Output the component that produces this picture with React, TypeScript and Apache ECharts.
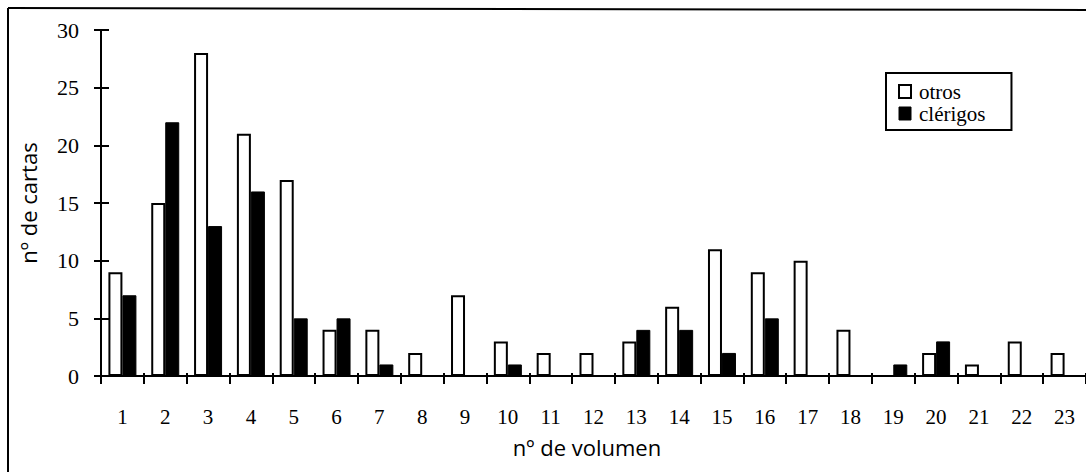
import React, { useEffect, useRef } from "react";
import * as echarts from "echarts";

const categories = ["1","2","3","4","5","6","7","8","9","10","11","12","13","14","15","16","17","18","19","20","21","22","23"];
const otros = [9, 15, 28, 21, 17, 4, 4, 2, 7, 3, 2, 2, 3, 6, 11, 9, 10, 4, 0, 2, 1, 3, 2];
const clerigos = [7, 22, 13, 16, 5, 5, 1, 0, 0, 1, 0, 0, 4, 4, 2, 5, 0, 0, 1, 3, 0, 0, 0];
const yMin = 0;
const yMax = 30;
const yStep = 5;

const SERIF = "'Liberation Serif', 'Times New Roman', serif";
const SANS = "'Open Sans', 'Noto Sans', sans-serif";

export default function App() {
  const ref = useRef<HTMLDivElement>(null);
  useEffect(() => {
    if (!ref.current) return;
    const chart = echarts.init(ref.current, null, { renderer: "svg" });
    const left = 101;
    const catW = 43.1;
    const top = 30;
    const h = 346;
    const option: any = {
      animation: false,
      backgroundColor: "#ffffff",
      grid: { left: left, top: top, width: catW * categories.length, height: h, containLabel: false },
      legend: {
        left: 886,
        top: 73,
        orient: "vertical",
        borderColor: "#000",
        borderWidth: 2,
        borderRadius: 0,
        padding: [8, 26, 6, 12],
        itemWidth: 12,
        itemHeight: 13,
        itemGap: 1,
        textStyle: { fontFamily: SERIF, fontSize: 21, color: "#000", lineHeight: 20, padding: [0, 0, 0, 3] },
        data: [
          { name: "otros", icon: "rect", itemStyle: { color: "#fff", borderColor: "#000", borderWidth: 2 } },
          { name: "clérigos", icon: "rect", itemStyle: { color: "#000", borderColor: "#000", borderWidth: 1 } },
        ],
      },
      xAxis: [
        {
          type: "category",
          data: categories,
          position: "bottom",
          axisLine: { lineStyle: { color: "#000", width: 2 } },
          axisTick: { show: true, inside: false, length: 8, lineStyle: { color: "#000", width: 2 } },
          axisLabel: { color: "#000", fontFamily: SERIF, fontSize: 21, margin: 30, interval: 0 },
          splitLine: { show: false },
        },
        {
          type: "category",
          data: categories,
          position: "bottom",
          axisLine: { show: false },
          axisTick: { show: true, inside: true, length: 3, lineStyle: { color: "#000", width: 2 } },
          axisLabel: { show: false },
          splitLine: { show: false },
        },
      ],
      yAxis: [
        {
          type: "value",
          min: yMin,
          max: yMax,
          interval: yStep,
          axisLine: { show: true, lineStyle: { color: "#000", width: 2 } },
          axisTick: { show: true, inside: false, length: 7, lineStyle: { color: "#000", width: 2 } },
          axisLabel: { color: "#000", fontFamily: SERIF, fontSize: 22, margin: 22 },
          splitLine: { show: false },
        },
        {
          type: "value",
          position: "left",
          min: yMin,
          max: yMax,
          interval: yStep,
          axisLine: { show: false },
          axisTick: { show: true, inside: true, length: 8, lineStyle: { color: "#000", width: 2 } },
          axisLabel: { show: false },
          splitLine: { show: false },
        },
      ],
      series: [
        {
          name: "otros",
          type: "bar",
          data: otros,
          barWidth: 14,
          barGap: "0%",
          itemStyle: { color: "#fff", borderColor: "#000", borderWidth: 2 },
        },
        {
          name: "clérigos",
          type: "bar",
          data: clerigos,
          barWidth: 14,
          barGap: "0%",
          itemStyle: { color: "#000", borderColor: "#000", borderWidth: 1 },
        },
      ],
      graphic: [
        { type: "line", shape: { x1: 8, y1: 8, x2: 8, y2: 472 }, style: { stroke: "#000", lineWidth: 2 } },
        { type: "line", shape: { x1: 8, y1: 8, x2: 1086, y2: 10 }, style: { stroke: "#000", lineWidth: 2 } },
        {
          type: "text",
          x: 28,
          y: 203,
          rotation: Math.PI / 2,
          style: { text: "nº de cartas", fontFamily: SANS, fontSize: 22, fill: "#000", align: "center", verticalAlign: "middle" },
        },
        {
          type: "text",
          x: 587,
          y: 447,
          style: { text: "nº de volumen", fontFamily: SANS, fontSize: 22, fill: "#000", align: "center", verticalAlign: "middle" },
        },
      ],
    };
    chart.setOption(option);
    return () => chart.dispose();
  }, []);
  return <div ref={ref} style={{ position: "absolute", left: 0, top: 0, width: 1086, height: 472 }} />;
}
